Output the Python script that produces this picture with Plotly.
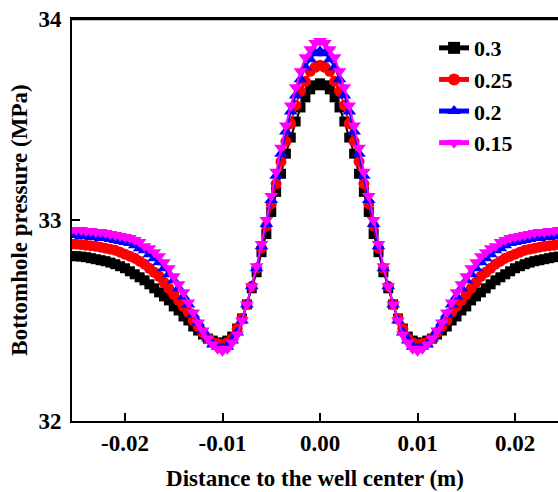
import plotly.graph_objects as go

# Distance to the well center (m)
x_dist = [-0.0255, -0.025, -0.0245, -0.024, -0.0235, -0.023, -0.0225, -0.022, -0.0215, -0.021,
          -0.0205, -0.02, -0.0195, -0.019, -0.0185, -0.018, -0.0175, -0.017, -0.0165, -0.016,
          -0.0155, -0.015, -0.0145, -0.014, -0.0135, -0.013, -0.0125, -0.012, -0.0115, -0.011,
          -0.0105, -0.01, -0.0095, -0.009, -0.0085, -0.008, -0.0075, -0.007, -0.0065, -0.006,
          -0.0055, -0.005, -0.0045, -0.004, -0.0035, -0.003, -0.0025, -0.002, -0.0015, -0.001,
          -0.0005, 0.0,
          0.0005, 0.001, 0.0015, 0.002, 0.0025, 0.003, 0.0035, 0.004, 0.0045, 0.005,
          0.0055, 0.006, 0.0065, 0.007, 0.0075, 0.008, 0.0085, 0.009, 0.0095, 0.01,
          0.0105, 0.011, 0.0115, 0.012, 0.0125, 0.013, 0.0135, 0.014, 0.0145, 0.015,
          0.0155, 0.016, 0.0165, 0.017, 0.0175, 0.018, 0.0185, 0.019, 0.0195, 0.02,
          0.0205, 0.021, 0.0215, 0.022, 0.0225, 0.023, 0.0235, 0.024, 0.0245, 0.025, 0.0255]

p_03 = [32.82, 32.82, 32.818, 32.815, 32.81, 32.805, 32.80, 32.795, 32.788, 32.78,
        32.77, 32.76, 32.745, 32.73, 32.715, 32.70, 32.68, 32.66, 32.64, 32.62,
        32.60, 32.57, 32.55, 32.52, 32.50, 32.47, 32.45, 32.43, 32.41, 32.40,
        32.39, 32.39, 32.40, 32.42, 32.46, 32.51, 32.58, 32.66, 32.74, 32.84,
        32.93, 33.04, 33.14, 33.23, 33.33, 33.41, 33.49, 33.56, 33.61, 33.65,
        33.67, 33.68,
        33.67, 33.65, 33.61, 33.56, 33.49, 33.41, 33.33, 33.23, 33.14, 33.04,
        32.93, 32.84, 32.74, 32.66, 32.58, 32.51, 32.46, 32.42, 32.40, 32.39,
        32.39, 32.40, 32.41, 32.43, 32.45, 32.47, 32.50, 32.52, 32.55, 32.57,
        32.60, 32.62, 32.64, 32.66, 32.68, 32.70, 32.715, 32.73, 32.745, 32.76,
        32.77, 32.78, 32.788, 32.795, 32.80, 32.805, 32.81, 32.815, 32.818, 32.82, 32.82]

p_025 = [32.88, 32.88, 32.878, 32.875, 32.872, 32.87, 32.865, 32.86, 32.855, 32.85,
         32.84, 32.83, 32.82, 32.81, 32.795, 32.78, 32.76, 32.74, 32.72, 32.69,
         32.66, 32.63, 32.60, 32.57, 32.54, 32.50, 32.47, 32.44, 32.41, 32.39,
         32.385, 32.38, 32.39, 32.41, 32.46, 32.51, 32.58, 32.67, 32.76, 32.86,
         32.97, 33.08, 33.18, 33.29, 33.39, 33.48, 33.57, 33.64, 33.69, 33.74,
         33.76, 33.77,
         33.76, 33.74, 33.69, 33.64, 33.57, 33.48, 33.39, 33.29, 33.18, 33.08,
         32.97, 32.86, 32.76, 32.67, 32.58, 32.51, 32.46, 32.41, 32.39, 32.38,
         32.385, 32.39, 32.41, 32.44, 32.47, 32.50, 32.54, 32.57, 32.60, 32.63,
         32.66, 32.69, 32.72, 32.74, 32.76, 32.78, 32.795, 32.81, 32.82, 32.83,
         32.84, 32.85, 32.855, 32.86, 32.865, 32.87, 32.872, 32.875, 32.878, 32.88, 32.88]

p_02 = [32.925, 32.925, 32.92, 32.92, 32.915, 32.915, 32.91, 32.91, 32.905, 32.90,
        32.895, 32.89, 32.885, 32.875, 32.86, 32.85, 32.83, 32.81, 32.79, 32.76,
        32.73, 32.70, 32.66, 32.62, 32.58, 32.53, 32.49, 32.45, 32.41, 32.38,
        32.37, 32.36, 32.37, 32.40, 32.44, 32.50, 32.58, 32.67, 32.76, 32.87,
        32.98, 33.10, 33.22, 33.33, 33.44, 33.54, 33.62, 33.70, 33.76, 33.80,
        33.83, 33.84,
        33.83, 33.80, 33.76, 33.70, 33.62, 33.54, 33.44, 33.33, 33.22, 33.10,
        32.98, 32.87, 32.76, 32.67, 32.58, 32.50, 32.44, 32.40, 32.37, 32.36,
        32.37, 32.38, 32.41, 32.45, 32.49, 32.53, 32.58, 32.62, 32.66, 32.70,
        32.73, 32.76, 32.79, 32.81, 32.83, 32.85, 32.86, 32.875, 32.885, 32.89,
        32.895, 32.90, 32.905, 32.91, 32.91, 32.915, 32.915, 32.92, 32.92, 32.925, 32.925]

p_015 = [32.95, 32.95, 32.95, 32.945, 32.945, 32.94, 32.94, 32.935, 32.93, 32.925,
         32.92, 32.915, 32.91, 32.90, 32.89, 32.87, 32.86, 32.84, 32.82, 32.79,
         32.76, 32.72, 32.68, 32.64, 32.59, 32.54, 32.49, 32.45, 32.41, 32.38,
         32.36, 32.35, 32.36, 32.39, 32.43, 32.50, 32.58, 32.67, 32.77, 32.88,
         33.00, 33.12, 33.24, 33.36, 33.47, 33.57, 33.66, 33.74, 33.81, 33.85,
         33.88, 33.89,
         33.88, 33.85, 33.81, 33.74, 33.66, 33.57, 33.47, 33.36, 33.24, 33.12,
         33.00, 32.88, 32.77, 32.67, 32.58, 32.50, 32.43, 32.39, 32.36, 32.35,
         32.36, 32.38, 32.41, 32.45, 32.49, 32.54, 32.59, 32.64, 32.68, 32.72,
         32.76, 32.79, 32.82, 32.84, 32.86, 32.87, 32.89, 32.90, 32.91, 32.915,
         32.92, 32.925, 32.93, 32.935, 32.94, 32.94, 32.945, 32.945, 32.95, 32.95, 32.95]

series_names = ["0.3", "0.25", "0.2", "0.15"]
series_colors = ["#000000", "#ff0000", "#0000ff", "#ff00ff"]
series_symbols = ["square", "circle", "triangle-up", "triangle-down"]
series_sizes = [10, 11, 12, 12]

x_tickvals = [-0.02, -0.01, 0.0, 0.01, 0.02]
x_ticktext = ["-0.02", "-0.01", "0.00", "0.01", "0.02"]
y_tickvals = [32, 33, 34]
y_ticktext = ["32", "33", "34"]

FONT = "Liberation Serif, Times New Roman, serif"
BOLD = dict(family=FONT, size=23, color="black", weight="bold")
LEG = dict(family=FONT, size=22, color="black", weight="bold")

fig = go.Figure()
for name, vals, col, sym, sz in zip(series_names, [p_03, p_025, p_02, p_015],
                                    series_colors, series_symbols, series_sizes):
    fig.add_trace(go.Scatter(
        x=x_dist, y=vals, name=name, mode="lines+markers",
        line=dict(color=col, width=2),
        marker=dict(symbol=sym, size=sz, color=col, line=dict(width=0)),
    ))

fig.update_layout(
    width=558, height=492,
    margin=dict(l=72, r=0, t=19, b=71),
    paper_bgcolor="white", plot_bgcolor="white",
    font=BOLD,
    showlegend=True,
    legend=dict(x=0.745, y=0.98, xanchor="left", yanchor="top",
                bgcolor="rgba(0,0,0,0)", borderwidth=0,
                font=LEG, tracegroupgap=0, itemsizing="constant"),
    # top frame line of the plot area
    shapes=[dict(type="line", xref="paper", yref="paper", x0=0, x1=1, y0=1.0, y1=1.0,
                 line=dict(color="black", width=2.5), layer="above")],
)

fig.update_xaxes(
    range=[-0.025436, 0.02441],
    tickmode="array", tickvals=x_tickvals, ticktext=x_ticktext,
    ticks="inside", ticklen=8, tickwidth=2, tickcolor="black",
    tickfont=BOLD, ticklabeloverflow="allow",
    showline=True, linecolor="black", linewidth=2, mirror=True,
    showgrid=False, zeroline=False,
    title=dict(text="Distance to the well center (m)", font=BOLD, standoff=15),
)
fig.update_yaxes(
    range=[32, 34],
    tickmode="array", tickvals=y_tickvals, ticktext=y_ticktext,
    ticks="inside", ticklen=8, tickwidth=2, tickcolor="black",
    tickfont=BOLD, ticklabeloverflow="allow",
    showline=True, linecolor="black", linewidth=2, mirror=False,
    showgrid=False, zeroline=False,
    ticklabelstandoff=4,
    title=dict(text="Bottomhole pressure (MPa)", font=BOLD, standoff=4),
)

fig.write_html("out.html",
               config={"displayModeBar": False},
               post_script="document.body.style.margin='0';document.body.style.overflow='hidden';")
